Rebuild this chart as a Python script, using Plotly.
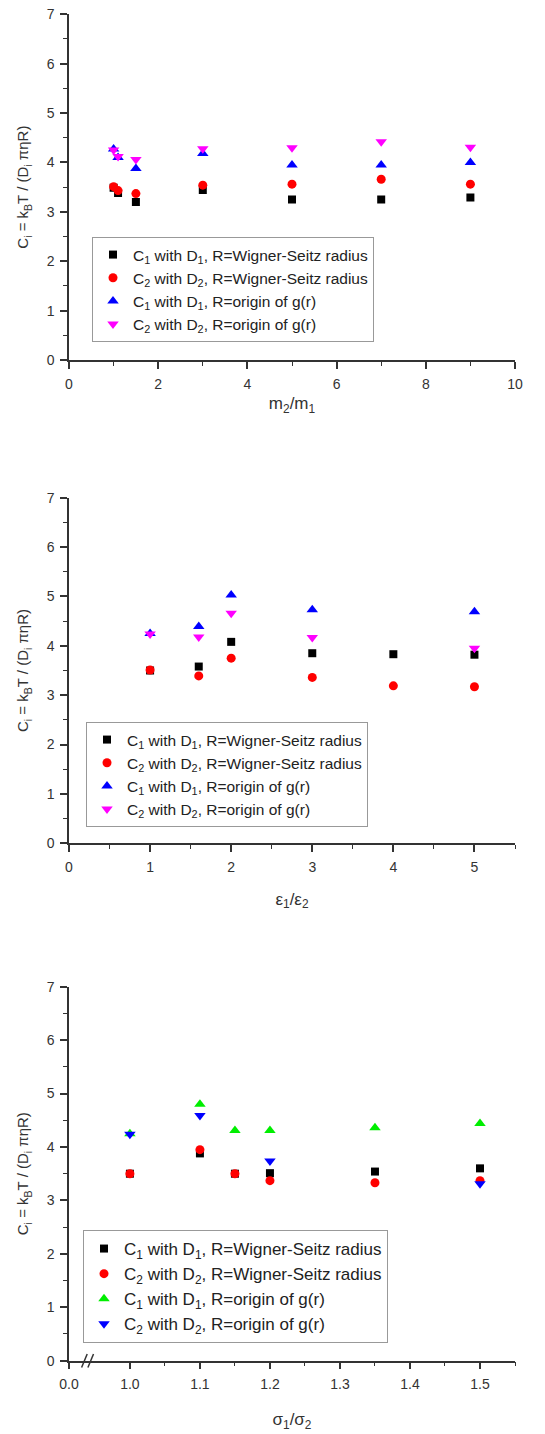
import plotly.graph_objects as go

# The page adds an 8px body margin, so the figure is drawn 8px smaller and
# all page-pixel positions are shifted by this offset.
PAGE_W, PAGE_H = 545, 1434
OFF = 8
W, H = PAGE_W - OFF, PAGE_H - OFF

# ---------------- data ----------------
# Panel 1: m2/m1
m_ratio = [1.0, 1.1, 1.5, 3, 5, 7, 9]
p1_c1_ws = [3.49, 3.38, 3.20, 3.44, 3.25, 3.25, 3.29]
p1_c2_ws = [3.51, 3.43, 3.37, 3.54, 3.56, 3.66, 3.56]
p1_c1_g = [4.27, 4.10, 3.88, 4.18, 3.95, 3.95, 4.00]
p1_c2_g = [4.25, 4.12, 4.06, 4.28, 4.30, 4.42, 4.31]

# Panel 2: eps1/eps2
eps_ratio = [1.0, 1.6, 2.0, 3.0, 4.0, 5.0]
p2_c1_ws = [3.50, 3.58, 4.08, 3.85, 3.83, 3.82]
p2_c2_ws = [3.51, 3.39, 3.75, 3.36, 3.19, 3.17]
eps_ratio_g = [1.0, 1.6, 2.0, 3.0, 5.0]
p2_c1_g = [4.25, 4.39, 5.03, 4.73, 4.69]
p2_c2_g = [4.24, 4.18, 4.66, 4.17, 3.95]

# Panel 3: sigma1/sigma2
sig_ratio = [1.0, 1.1, 1.15, 1.2, 1.35, 1.5]
p3_c1_ws = [3.50, 3.88, 3.50, 3.51, 3.54, 3.60]
p3_c2_ws = [3.50, 3.95, 3.50, 3.37, 3.33, 3.37]
p3_c1_g = [4.25, 4.80, 4.31, 4.31, 4.36, 4.44]
sig_ratio_g2 = [1.0, 1.1, 1.2, 1.5]
p3_c2_g = [4.24, 4.59, 3.74, 3.31]

sig_ticks = [1.0, 1.1, 1.2, 1.3, 1.4, 1.5]
sig_axis_start = 0.913  # position shown as "0.0" before the axis break

labels = [
    "C<sub>1</sub> with D<sub>1</sub>, R=Wigner-Seitz radius",
    "C<sub>2</sub> with D<sub>2</sub>, R=Wigner-Seitz radius",
    "C<sub>1</sub> with D<sub>1</sub>, R=origin of g(r)",
    "C<sub>2</sub> with D<sub>2</sub>, R=origin of g(r)",
]

FONT = "Arial, Liberation Sans, sans-serif"
AX = "#333333"

# ---------------- layout geometry (page pixels) ----------------
x_left, x_right = 69 - OFF, 515 - OFF
panels = [(14.3, 360.0), (497.7, 843.3), (986.7, 1360.7)]  # (top, bottom) on page


def ydom(top, bottom):
    return [1 - (bottom - OFF) / H, 1 - (top - OFF) / H]


fig = go.Figure()


def add(x, y, name, color, symbol, size, axis_i, legend):
    xa = "x" if axis_i == 1 else f"x{axis_i}"
    ya = "y" if axis_i == 1 else f"y{axis_i}"
    fig.add_trace(go.Scatter(
        x=x, y=y, mode="markers", name=name,
        marker=dict(color=color, symbol=symbol, size=size, line=dict(width=0)),
        xaxis=xa, yaxis=ya, legend=legend,
    ))


SQ, CI, TU, TD = "square", "circle", "triangle-up", "triangle-down"

add(m_ratio, p1_c1_ws, labels[0], "#000000", SQ, 8, 1, "legend")
add(m_ratio, p1_c2_ws, labels[1], "#ff0000", CI, 9, 1, "legend")
add(m_ratio, p1_c1_g, labels[2], "#0000ff", TU, 10, 1, "legend")
add(m_ratio, p1_c2_g, labels[3], "#ff00ff", TD, 10, 1, "legend")

add(eps_ratio, p2_c1_ws, labels[0], "#000000", SQ, 8, 2, "legend2")
add(eps_ratio, p2_c2_ws, labels[1], "#ff0000", CI, 9, 2, "legend2")
add(eps_ratio_g, p2_c1_g, labels[2], "#0000ff", TU, 10, 2, "legend2")
add(eps_ratio_g, p2_c2_g, labels[3], "#ff00ff", TD, 10, 2, "legend2")

add(sig_ratio, p3_c1_ws, labels[0], "#000000", SQ, 8, 3, "legend3")
add(sig_ratio, p3_c2_ws, labels[1], "#ff0000", CI, 9, 3, "legend3")
add(sig_ratio, p3_c1_g, labels[2], "#00ee00", TU, 10, 3, "legend3")
add(sig_ratio_g2, p3_c2_g, labels[3], "#0000ff", TD, 10, 3, "legend3")

axis_common = dict(
    showline=True, linecolor=AX, linewidth=1.5, showgrid=False, zeroline=False,
    ticks="outside", ticklen=7, tickwidth=1.5, tickcolor=AX,
    ticklabelstandoff=3, ticklabeloverflow="allow",
    tickfont=dict(family=FONT, size=14, color=AX), automargin=False,
    mirror=False,
)


def minor(vals):
    return dict(tickvals=vals, ticklen=4, tickcolor=AX, tickwidth=1.2, ticks="outside")


ytitle = "C<sub>i</sub> = k<sub>B</sub>T / (D<sub>i</sub> πηR)"
tfont = dict(family=FONT, size=17, color=AX)

xcfg = [
    dict(range=[0, 10], tickvals=[0, 2, 4, 6, 8, 10], minor=minor([1, 3, 5, 7, 9]),
         title=dict(text="m<sub>2</sub>/m<sub>1</sub>", font=tfont, standoff=7)),
    dict(range=[0, 5.5], tickvals=[0, 1, 2, 3, 4, 5], minor=minor([0.5, 1.5, 2.5, 3.5, 4.5, 5.5]),
         title=dict(text="ε<sub>1</sub>/ε<sub>2</sub>", font=tfont, standoff=19)),
    dict(range=[sig_axis_start, 1.55], tickvals=[sig_axis_start] + sig_ticks,
         ticktext=["0.0"] + [f"{v:.1f}" for v in sig_ticks],
         minor=minor([1.05, 1.15, 1.25, 1.35, 1.45, 1.55]),
         title=dict(text="σ<sub>1</sub>/σ<sub>2</sub>", font=tfont, standoff=22)),
]

layout = dict(
    width=W, height=H, margin=dict(l=0, r=0, t=0, b=0),
    paper_bgcolor="white", plot_bgcolor="white",
    font=dict(family=FONT, color="#222"),
)

for i, (top, bottom) in enumerate(panels, start=1):
    xk = "xaxis" if i == 1 else f"xaxis{i}"
    yk = "yaxis" if i == 1 else f"yaxis{i}"
    ya = "y" if i == 1 else f"y{i}"
    xa = "x" if i == 1 else f"x{i}"
    layout[xk] = dict(axis_common, domain=[x_left / W, x_right / W], anchor=ya, **xcfg[i - 1])
    layout[yk] = dict(
        axis_common, domain=ydom(top, bottom), anchor=xa, range=[0, 7],
        tickvals=[0, 1, 2, 3, 4, 5, 6, 7],
        minor=minor([0.5, 1.5, 2.5, 3.5, 4.5, 5.5, 6.5]),
        title=dict(text=ytitle, font=dict(family=FONT, size=15, color=AX), standoff=14),
    )

legend_common = dict(
    xanchor="left", yanchor="top", bordercolor="#999", borderwidth=1,
    bgcolor="white", itemsizing="trace", tracegroupgap=0,
)
layout["legend"] = dict(legend_common, x=(92 - OFF) / W, y=1 - (237 - OFF) / H,
                        font=dict(family=FONT, size=15.5, color="#222"))
layout["legend2"] = dict(legend_common, x=(86 - OFF) / W, y=1 - (722 - OFF) / H,
                         font=dict(family=FONT, size=15.5, color="#222"))
layout["legend3"] = dict(legend_common, x=(83 - OFF) / W, y=1 - (1230 - OFF) / H,
                         font=dict(family=FONT, size=17, color="#222"))

fig.update_layout(**layout)

# axis-break marks on the bottom panel's x axis
for xb in (0.935, 0.944):
    fig.add_shape(type="line", xref="x3", yref="y3 domain",
                  x0=xb - 0.004, x1=xb + 0.004, y0=-0.018, y1=0.018,
                  line=dict(color=AX, width=1.5))

fig.write_html("out.html")
